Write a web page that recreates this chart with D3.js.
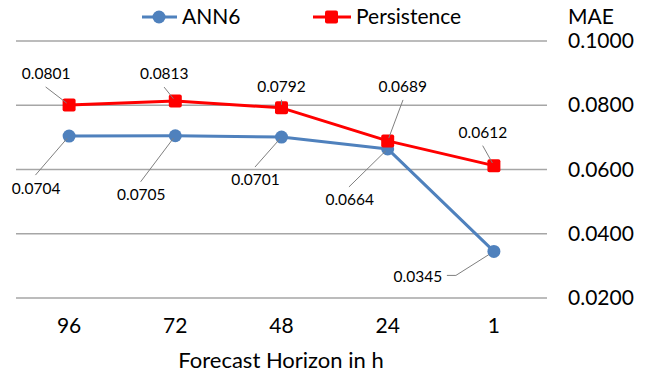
<!DOCTYPE html>
<html>
<head>
<meta charset="utf-8">
<script src="https://cdn.jsdelivr.net/npm/d3@7"></script>
<style>
  html, body { margin: 0; padding: 0; background: #fff; }
  svg { display: block; font-family: Lato, "Open Sans", sans-serif; }
</style>
</head>
<body>
<svg id="chart" width="646" height="374"></svg>
<script>
// Forecast horizons (hours) shown along the x axis
const horizons = ["96", "72", "48", "24", "1"];
// Mean absolute error per horizon
const ann6 = [0.0704, 0.0705, 0.0701, 0.0664, 0.0345];
const persistence = [0.0801, 0.0813, 0.0792, 0.0689, 0.0612];
// Y axis ticks
const yTicks = [0.02, 0.04, 0.06, 0.08, 0.10];

// Data-label placement (offset of label centre from its point, in px)
const ann6LabelOffsets = [[-33, 52], [-34, 59], [-26, 43], [-38, 51], [-76, 25, "right"]];
const persLabelOffsets = [[-23, -31], [-11, -27], [0, -21], [15, -54], [-11, -33]];

const BLUE = "#4f81bd", RED = "#ff0000";
const svg = d3.select("#chart");

const x = d3.scaleBand().domain(horizons).range([16, 547]);
const y = d3.scaleLinear().domain([0.02, 0.10]).range([298, 41]);
const cx = d => x(d) + x.bandwidth() / 2;

// gridlines
svg.append("g").selectAll("line").data(yTicks).join("line")
  .attr("x1", 16).attr("x2", 547)
  .attr("y1", d => y(d)).attr("y2", d => y(d))
  .attr("stroke", "#a6a6a6").attr("stroke-width", 1.5);

// right-side y axis labels
const yAxis = d3.axisRight(y).tickValues(yTicks).tickFormat(d3.format(".4f")).tickSize(0).tickPadding(0);
const gy = svg.append("g").attr("transform", "translate(568,0)").call(yAxis);
gy.select(".domain").remove();
gy.selectAll("text").attr("font-size", 21).attr("fill", "#000").attr("font-family", "Lato, sans-serif");

svg.append("text").attr("x", 568).attr("y", 24).attr("font-size", 21).text("MAE");

// x axis labels
const xAxis = d3.axisBottom(x).tickSize(0).tickPadding(0);
const gx = svg.append("g").attr("transform", "translate(0,318)").call(xAxis);
gx.select(".domain").remove();
gx.selectAll("text").attr("font-size", 21).attr("fill", "#000").attr("font-family", "Lato, sans-serif");

svg.append("text").attr("x", 281).attr("y", 368).attr("text-anchor", "middle")
  .attr("font-size", 22).text("Forecast Horizon in h");

const line = d3.line().x((d, i) => cx(horizons[i])).y(d => y(d));

svg.append("path").datum(ann6).attr("d", line)
  .attr("fill", "none").attr("stroke", BLUE).attr("stroke-width", 3).attr("stroke-linejoin", "round");
svg.append("path").datum(persistence).attr("d", line)
  .attr("fill", "none").attr("stroke", RED).attr("stroke-width", 3).attr("stroke-linejoin", "round");

svg.append("g").selectAll("circle").data(ann6).join("circle")
  .attr("cx", (d, i) => cx(horizons[i])).attr("cy", d => y(d)).attr("r", 6.5).attr("fill", BLUE);
svg.append("g").selectAll("rect").data(persistence).join("rect")
  .attr("x", (d, i) => cx(horizons[i]) - 6.5).attr("y", d => y(d) - 6.5)
  .attr("width", 13).attr("height", 13).attr("rx", 2).attr("fill", RED);

// data labels with leader lines
function labels(values, offsets) {
  const g = svg.append("g");
  values.forEach((v, i) => {
    const px = cx(horizons[i]), py = y(v);
    const [dx, dy, side] = offsets[i];
    const tx = px + dx, ty = py + dy;
    let pts;
    if (side === "right") {
      const sx = tx + 29;
      pts = [[sx, ty - 1], [sx + 9, ty - 1]];
      const ang = Math.atan2(py - (ty - 1), px - (sx + 9));
      pts.push([px - 6 * Math.cos(ang), py - 6 * Math.sin(ang)]);
    } else {
      const sy = ty + (dy < 0 ? 13 : -13);
      const sx = tx + dx * 0.02;
      const ang = Math.atan2(py - sy, px - sx);
      pts = [[sx, sy], [px - 3 * Math.cos(ang), py - 3 * Math.sin(ang)]];
    }
    g.append("path").attr("d", d3.line()(pts))
      .attr("fill", "none").attr("stroke", "#7f7f7f").attr("stroke-width", 1);
    g.append("text").attr("x", tx).attr("y", ty).attr("dy", "0.35em")
      .attr("text-anchor", "middle").attr("font-size", 15.5).text(d3.format(".4f")(v));
  });
}
labels(ann6, ann6LabelOffsets);
labels(persistence, persLabelOffsets);

// legend
const lg = svg.append("g");
lg.append("line").attr("x1", 142).attr("x2", 177).attr("y1", 17).attr("y2", 17)
  .attr("stroke", BLUE).attr("stroke-width", 3);
lg.append("circle").attr("cx", 159).attr("cy", 17).attr("r", 6.5).attr("fill", BLUE);
lg.append("text").attr("x", 182).attr("y", 17).attr("dy", "0.35em").attr("font-size", 21).text("ANN6");
lg.append("line").attr("x1", 313).attr("x2", 351).attr("y1", 17).attr("y2", 17)
  .attr("stroke", RED).attr("stroke-width", 3);
lg.append("rect").attr("x", 325).attr("y", 10.5).attr("width", 13).attr("height", 13).attr("rx", 2).attr("fill", RED);
lg.append("text").attr("x", 356).attr("y", 17).attr("dy", "0.35em").attr("font-size", 21).text("Persistence");
</script>
</body>
</html>
